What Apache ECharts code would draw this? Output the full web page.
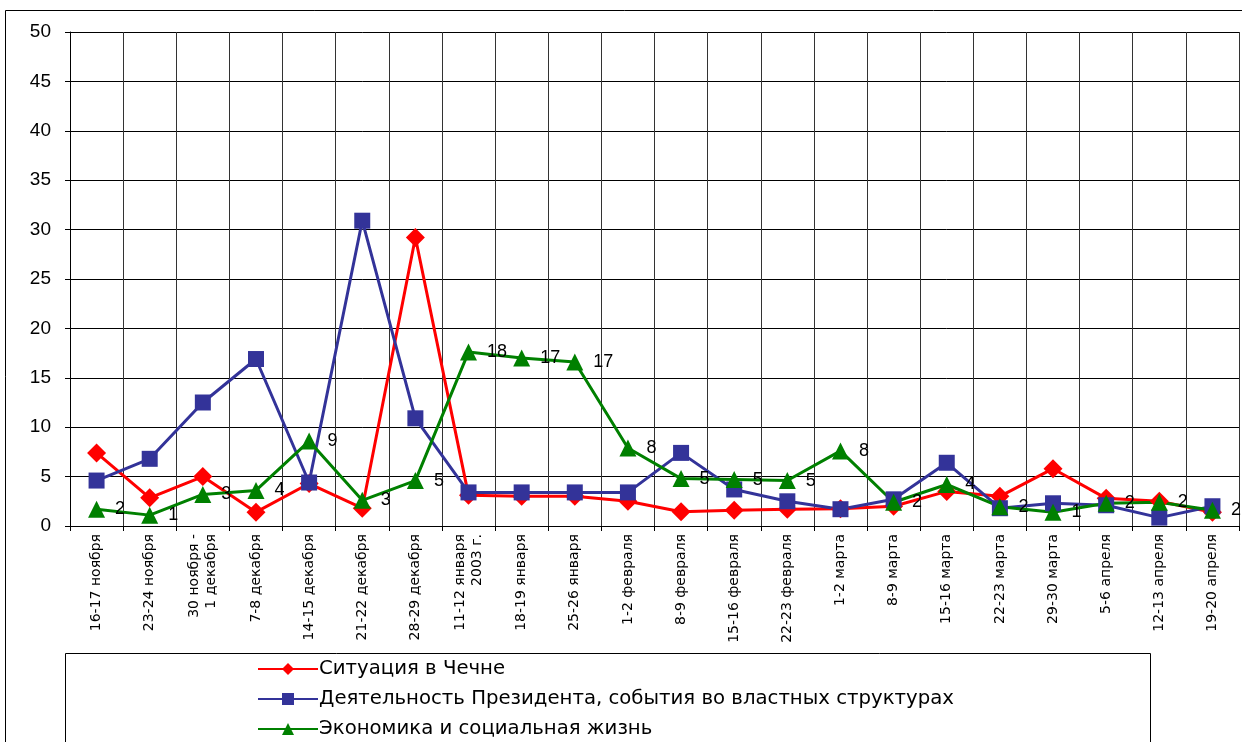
<!DOCTYPE html>
<html>
<head>
<meta charset="utf-8">
<script src="https://cdn.jsdelivr.net/npm/echarts@6/dist/echarts.min.js"></script>
<style>
  html, body { margin: 0; padding: 0; background: #fff; }
  #chart { width: 1242px; height: 742px; }
</style>
</head>
<body>
<div id="chart"></div>
<script>
// categories (weekends, Nov 2002 - Apr 2003)
const weeks = [
  '16-17 ноября', '23-24 ноября', '30 ноября -\n1 декабря', '7-8 декабря',
  '14-15 декабря', '21-22 декабря', '28-29 декабря', '11-12 января\n2003 г.',
  '18-19 января', '25-26 января', '1-2 февраля', '8-9 февраля',
  '15-16 февраля', '22-23 февраля', '1-2 марта', '8-9 марта',
  '15-16 марта', '22-23 марта', '29-30 марта', '5-6 апреля',
  '12-13 апреля', '19-20 апреля'
]

const chechnya = [7.4, 2.85, 5.0, 1.4, 4.3, 1.8, 29.2, 3.1, 3.0, 3.0, 2.5,
  1.45, 1.6, 1.7, 1.75, 2.0, 3.5, 3.0, 5.8, 2.8, 2.5, 1.4]

const president = [4.6, 6.8, 12.5, 16.9, 4.4, 30.9, 10.9, 3.4, 3.4, 3.4, 3.4,
  7.4, 3.7, 2.5, 1.7, 2.7, 6.4, 1.8, 2.3, 2.1, 0.85, 2.0]

const economy = [1.7, 1.1, 3.2, 3.6, 8.6, 2.6, 4.6, 17.6, 17.0, 16.6, 7.9,
  4.8, 4.7, 4.6, 7.6, 2.4, 4.2, 1.95, 1.4, 2.3, 2.4, 1.6]

const seriesNames = [
  'Ситуация в Чечне',
  'Деятельность Президента, события во властных структурах',
  'Экономика и социальная жизнь'
]

const font = 'Liberation Sans, Arial, sans-serif'
const wideFont = 'DejaVu Sans, Liberation Sans, sans-serif'

const chart = echarts.init(document.getElementById('chart'))

const lineSeries = (name, data, color, symbol, size) => ({
  name: name,
  type: 'line',
  data: data,
  symbol: symbol,
  symbolSize: size,
  showAllSymbol: true,
  animation: false,
  lineStyle: { color: color, width: 3 },
  itemStyle: { color: color },
  emphasis: { disabled: true }
})

const green = lineSeries(seriesNames[2], economy, '#008000', 'triangle', 17)
green.label = {
  show: true,
  position: 'right',
  distance: 10,
  color: '#000',
  fontFamily: font,
  fontSize: 18,
  formatter: p => Math.round(p.value)
}

chart.setOption({
  backgroundColor: '#fff',
  animation: false,
  grid: { left: 70, right: 3, top: 32, bottom: 216 },
  graphic: [
    {
      type: 'rect', silent: true, z: -1,
      shape: { x: 5.5, y: 10.5, width: 1300, height: 800 },
      style: { fill: 'none', stroke: '#000', lineWidth: 1 }
    },
    {
      type: 'rect', silent: true, z: -1,
      shape: { x: 65.5, y: 653.5, width: 1085, height: 200 },
      style: { fill: '#fff', stroke: '#000', lineWidth: 1 }
    }
  ],
  legend: {
    orient: 'vertical',
    left: 257,
    top: 659,
    height: 200,
    padding: 0,
    itemWidth: 60,
    itemHeight: 15,
    itemGap: 10,
    textStyle: { fontFamily: wideFont, fontSize: 19.7, lineHeight: 20, color: '#000', padding: [0, 0, 0, -4] },
    data: seriesNames
  },
  xAxis: {
    type: 'category',
    data: weeks,
    boundaryGap: true,
    axisLine: { lineStyle: { color: '#000', width: 1 } },
    axisTick: { show: true, interval: 0, length: 5, lineStyle: { color: '#000' } },
    splitLine: { show: true, interval: 0, lineStyle: { color: '#333', width: 1 } },
    axisLabel: {
      interval: 0,
      rotate: 90,
      margin: 8,
      color: '#000',
      fontFamily: wideFont,
      fontSize: 14,
      lineHeight: 17
    }
  },
  yAxis: {
    type: 'value',
    min: 0,
    max: 50,
    interval: 5,
    axisLine: { show: true, lineStyle: { color: '#000', width: 1 } },
    axisTick: { show: true, length: 5, lineStyle: { color: '#000' } },
    splitLine: { show: true, lineStyle: { color: '#000', width: 1 } },
    axisLabel: {
      color: '#000',
      fontFamily: font,
      fontSize: 19,
      margin: 19
    }
  },
  series: [
    lineSeries(seriesNames[0], chechnya, '#ff0000', 'diamond', 19),
    lineSeries(seriesNames[1], president, '#333399', 'rect', 16),
    green
  ]
})
</script>
</body>
</html>
